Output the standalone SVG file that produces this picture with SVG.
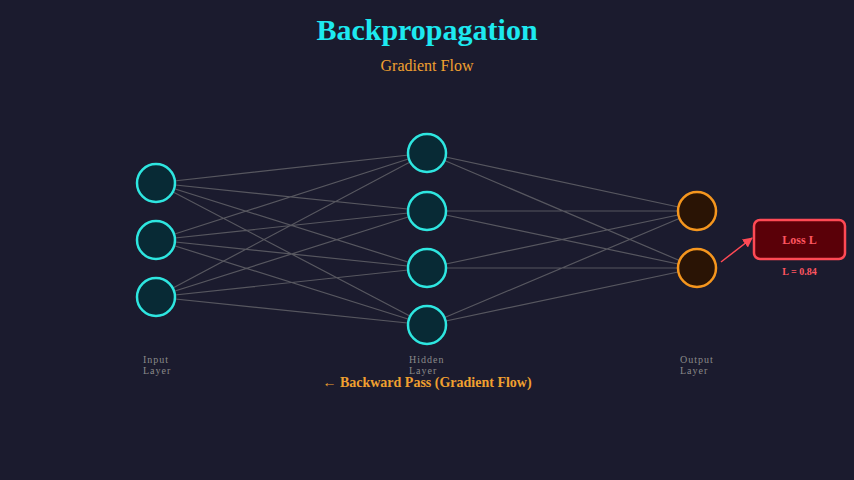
<svg xmlns="http://www.w3.org/2000/svg" width="854" height="480" viewBox="0 0 854 480">
<style>
.c{stroke:#888;stroke-opacity:0.55;stroke-width:1.2;fill:none}
.n{fill:#082a35;stroke:#2ee6e0;stroke-width:2.5}
.o{fill:#2a1405;stroke:#f5961e;stroke-width:2.5}
.l{font-family:"Liberation Serif",serif;font-size:10px;fill:#8a8a8a;letter-spacing:1px}
</style>
<defs><marker id="a" markerWidth="10" markerHeight="10" refX="9" refY="5" orient="auto" markerUnits="userSpaceOnUse"><path d="M0,0L10,5L0,10z" fill="#ff4a55"/></marker></defs>
<rect width="854" height="480" fill="#1b1b2e"/>
<text x="427" y="40" text-anchor="middle" font-family="Liberation Serif,serif" font-weight="bold" font-size="30" fill="#1de9f0">Backpropagation</text>
<text x="427" y="71" text-anchor="middle" font-family="Liberation Serif,serif" font-size="16" fill="#f0a030">Gradient Flow</text>
<g id="connectors">
<path class="c" d="M156,183L427,153M156,183L427,211M156,183L427,268M156,183L427,325M156,240L427,153M156,240L427,211M156,240L427,268M156,240L427,325M156,297L427,153M156,297L427,211M156,297L427,268M156,297L427,325M427,153L697,211M427,153L697,268M427,211L697,211M427,211L697,268M427,268L697,211M427,268L697,268M427,325L697,211M427,325L697,268"/>
<path d="M721,262L752,238" stroke="#ff4a55" stroke-width="1.5" marker-end="url(#a)"/>
</g>
<g id="i1"><circle class="n" cx="156" cy="183" r="19"/></g>
<g id="i2"><circle class="n" cx="156" cy="240" r="19"/></g>
<g id="i3"><circle class="n" cx="156" cy="297" r="19"/></g>
<g id="h1"><circle class="n" cx="427" cy="153" r="19"/></g>
<g id="h2"><circle class="n" cx="427" cy="211" r="19"/></g>
<g id="h3"><circle class="n" cx="427" cy="268" r="19"/></g>
<g id="h4"><circle class="n" cx="427" cy="325" r="19"/></g>
<g id="o1"><circle class="o" cx="697" cy="211" r="19"/></g>
<g id="o2"><circle class="o" cx="697" cy="268" r="19"/></g>
<g id="loss"><rect x="754" y="220" width="91" height="39" rx="6" fill="#5a0008" stroke="#ff4a55" stroke-width="2.5"/>
<text x="799.5" y="244" text-anchor="middle" font-family="Liberation Serif,serif" font-weight="bold" font-size="12" fill="#ff5560">Loss L</text>
<text x="799.5" y="275" text-anchor="middle" font-family="Liberation Serif,serif" font-weight="bold" font-size="10" fill="#ff5560">L = 0.84</text></g>
<text class="l" x="143" y="363">Input</text><text class="l" x="143" y="374">Layer</text>
<text class="l" x="409" y="363">Hidden</text><text class="l" x="409" y="374">Layer</text>
<text class="l" x="680" y="363">Output</text><text class="l" x="680" y="374">Layer</text>
<text x="427" y="387" text-anchor="middle" font-family="Liberation Serif,serif" font-weight="bold" font-size="14" fill="#f0a030">← Backward Pass (Gradient Flow)</text>
</svg>
